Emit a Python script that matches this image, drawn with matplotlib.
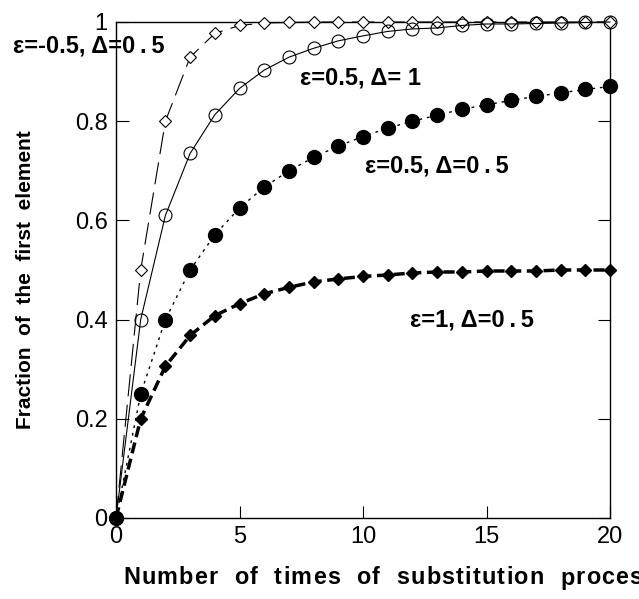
import matplotlib
matplotlib.use("Agg")
import matplotlib.pyplot as plt
from matplotlib.font_manager import FontProperties

plt.rcParams['font.family'] = ['Liberation Sans', 'DejaVu Sans']
plt.rcParams['lines.scale_dashes'] = False

x = list(range(21))
# eps=-0.5, Delta=0.5 (open diamonds, long dashes)
y_a = [0, 0.5, 0.8, 0.929, 0.977, 0.993, 0.998, 0.999, 1.0, 1.0, 1.0, 1.0, 1.0,
       1.0, 1.0, 1.0, 1.0, 1.0, 1.0, 1.0, 1.0]
# eps=0.5, Delta=1 (open circles, solid)
y_b = [0, 0.4, 0.61, 0.735, 0.813, 0.866, 0.903, 0.929, 0.947, 0.962, 0.972,
       0.981, 0.986, 0.988, 0.993, 0.996, 0.996, 0.997, 0.998, 0.999, 1.0]
# eps=0.5, Delta=0.5 (filled circles, dotted)
y_c = [0, 0.25, 0.4, 0.5, 0.571, 0.625, 0.667, 0.7, 0.727, 0.75, 0.769,
       0.786, 0.8, 0.812, 0.824, 0.833, 0.842, 0.85, 0.857, 0.864, 0.87]
# eps=1, Delta=0.5 (filled diamonds, thick dashes)
y_d = [0, 0.2, 0.306, 0.368, 0.408, 0.432, 0.452, 0.465, 0.476, 0.482, 0.487,
       0.490, 0.494, 0.496, 0.496, 0.498, 0.498, 0.498, 0.5, 0.5, 0.5]

xticks = [0, 5, 10, 15, 20]
yticks = [0, 0.2, 0.4, 0.6, 0.8, 1.0]
yticklabels = ['0', '0.2', '0.4', '0.6', '0.8', '1']

labels = ['ε=-0.5, Δ=0\u2009.\u20095', 'ε=0.5, Δ= 1',
          'ε=0.5, Δ=0\u2009.\u20095', 'ε=1, Δ=0\u2009.\u20095']
xlabel = 'Number  of  times  of  substitution  process'
ylabel = 'Fraction  of  the  first  element'

W, H = 639, 599
fig = plt.figure(figsize=(W/100, H/100), dpi=100)
ax = fig.add_axes([116/W, 1-518/H, (610-116)/W, (518-22)/H])

ax.plot(x, y_a, color='black', lw=0.8, dashes=(16, 6), marker='D', ms=6.3,
        mfc='white', mec='black', mew=0.8, clip_on=False, zorder=3)
ax.plot(x, y_b, color='black', lw=0.8, linestyle='-', marker='o', ms=9.3,
        mfc='none', mec='black', mew=0.8, clip_on=False, zorder=4)
ax.plot(x, y_c, color='black', lw=1.0, dashes=(2, 3.5), marker='o', ms=10,
        mfc='black', mec='black', clip_on=False, zorder=5)
ax.plot(x, y_d, color='black', lw=2.5, dashes=(8, 4), marker='D', ms=6.3,
        mfc='black', mec='black', clip_on=False, zorder=6)

ax.set_xlim(0, 20)
ax.set_ylim(0, 1)
ax.set_xticks(xticks)
ax.set_xticklabels([str(t) for t in xticks])
ax.set_yticks(yticks)
ax.set_yticklabels(yticklabels)
ax.tick_params(direction='in', length=9, width=0.8, labelsize=17, pad=6,
               right=True, top=False)
for s in ax.spines.values():
    s.set_linewidth(1.0)

lab_kw = dict(fontsize=17, fontweight='bold', color='black', clip_on=False)
ax.text((13-116)/24.7, (518-47)/495, labels[0], ha='left', va='center', **lab_kw)
ax.text((300-116)/24.7, (518-79)/495, labels[1], ha='left', va='center', **lab_kw)
ax.text((365-116)/24.7, (518-167)/495, labels[2], ha='left', va='center', **lab_kw)
ax.text((410-116)/24.7, (518-320)/495, labels[3], ha='left', va='center', **lab_kw)

# x label drawn with slight letter tracking (as in the reference)
renderer = fig.canvas.get_renderer()
prop = FontProperties(family=['Liberation Sans'], weight='bold', size=16.8)
track = 1.2  # px
xpos = 123.0
for ch in xlabel:
    if xpos < W - 4:
        fig.text(xpos / W, 1 - 578 / H, ch, ha='left', va='center',
                 fontproperties=prop)
    w, h, d = renderer.get_text_width_height_descent(ch if ch != ' ' else 'i',
                                                     prop, ismath=False)
    xpos += w + track

fig.text(26/W, 1-280/H, ylabel, rotation=90,
         ha='center', va='center', fontsize=15, fontweight='bold')

fig.savefig('out.png', dpi=100)
